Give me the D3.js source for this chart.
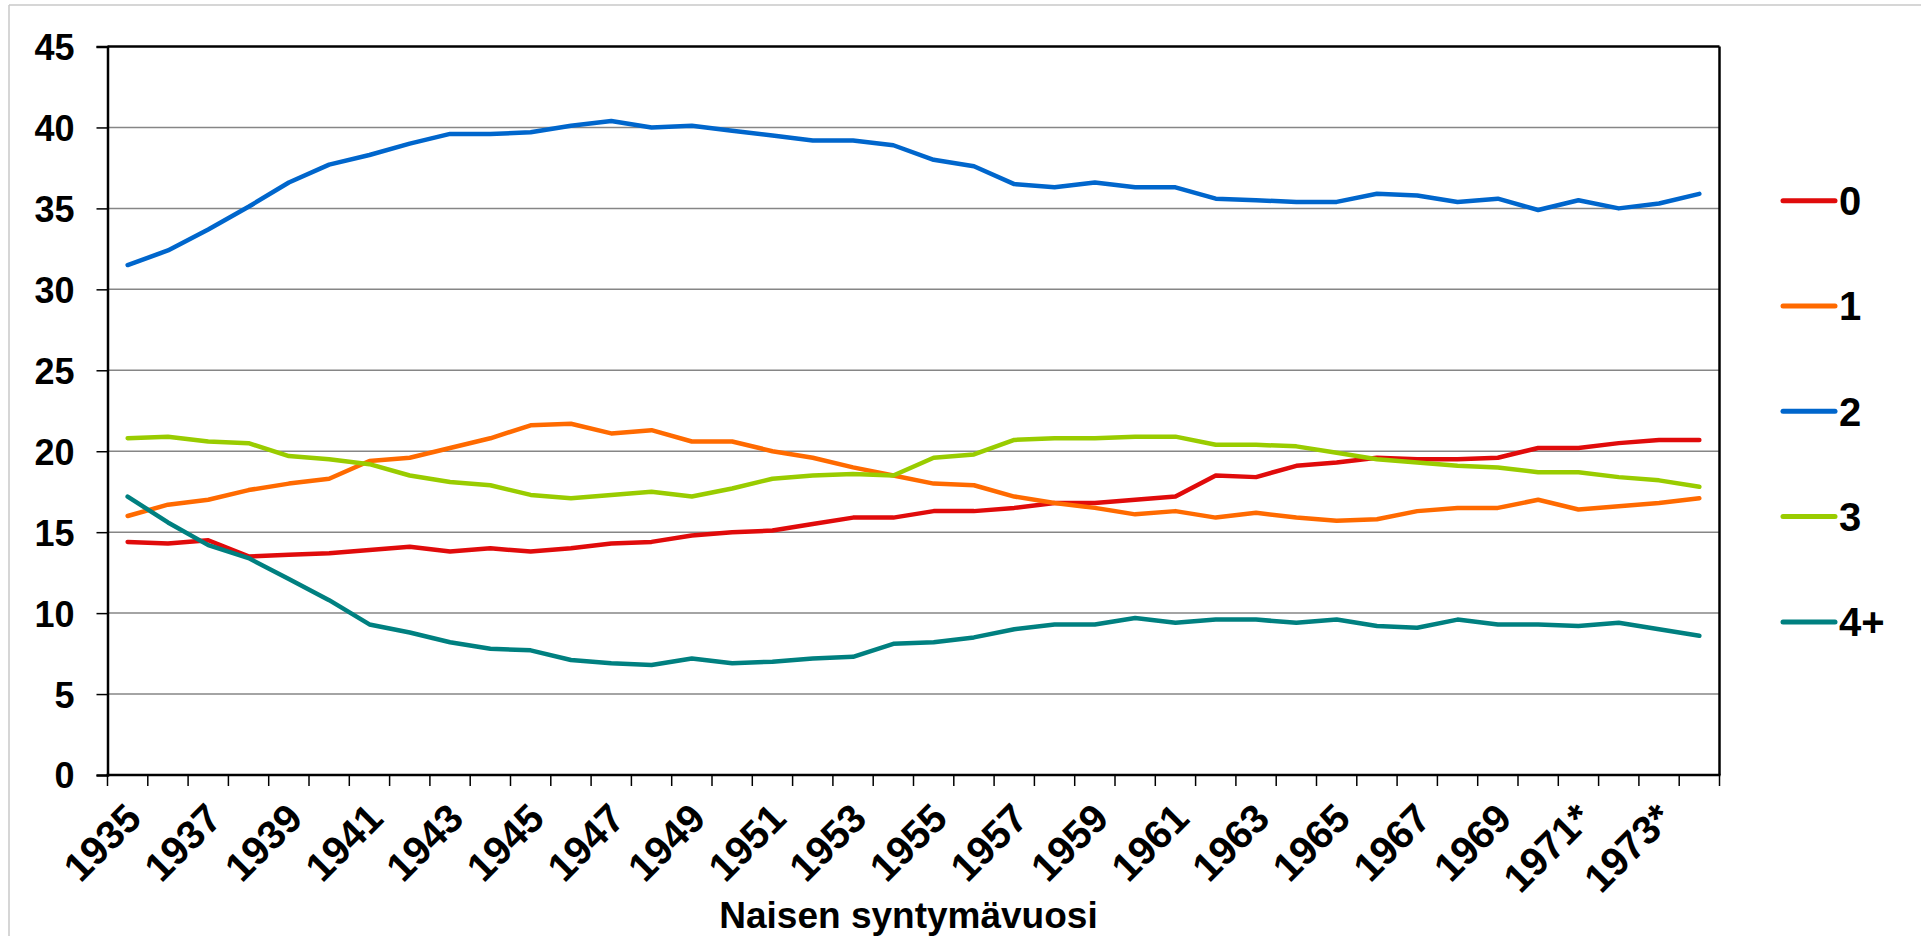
<!DOCTYPE html>
<html>
<head>
<meta charset="utf-8">
<script src="https://cdn.jsdelivr.net/npm/d3@7"></script>
<style>
  html, body { margin: 0; padding: 0; background: #fff; }
  svg { display: block; }
  text { font-family: "Liberation Sans", Arial, sans-serif; font-weight: bold; fill: #000; }
</style>
</head>
<body>
<svg id="chart" width="1921" height="936"></svg>
<script>
// ---- Data ----
const years = ["1935","1936","1937","1938","1939","1940","1941","1942","1943","1944",
  "1945","1946","1947","1948","1949","1950","1951","1952","1953","1954",
  "1955","1956","1957","1958","1959","1960","1961","1962","1963","1964",
  "1965","1966","1967","1968","1969","1970","1971*","1972*","1973*","1974*"];

const seriesNames = ["0", "1", "2", "3", "4+"];
const seriesColors = ["#E00B0B", "#FF6A00", "#0066CC", "#99CC00", "#008080"];

const s0 = [14.4,14.3,14.5,13.5,13.6,13.7,13.9,14.1,13.8,14.0,
  13.8,14.0,14.3,14.4,14.8,15.0,15.1,15.5,15.9,15.9,
  16.3,16.3,16.5,16.8,16.8,17.0,17.2,18.5,18.4,19.1,
  19.3,19.6,19.5,19.5,19.6,20.2,20.2,20.5,20.7,20.7];
const s1 = [16.0,16.7,17.0,17.6,18.0,18.3,19.4,19.6,20.2,20.8,
  21.6,21.7,21.1,21.3,20.6,20.6,20.0,19.6,19.0,18.5,
  18.0,17.9,17.2,16.8,16.5,16.1,16.3,15.9,16.2,15.9,
  15.7,15.8,16.3,16.5,16.5,17.0,16.4,16.6,16.8,17.1];
const s2 = [31.5,32.4,33.7,35.1,36.6,37.7,38.3,39.0,39.6,39.6,
  39.7,40.1,40.4,40.0,40.1,39.8,39.5,39.2,39.2,38.9,
  38.0,37.6,36.5,36.3,36.6,36.3,36.3,35.6,35.5,35.4,
  35.4,35.9,35.8,35.4,35.6,34.9,35.5,35.0,35.3,35.9];
const s3 = [20.8,20.9,20.6,20.5,19.7,19.5,19.2,18.5,18.1,17.9,
  17.3,17.1,17.3,17.5,17.2,17.7,18.3,18.5,18.6,18.5,
  19.6,19.8,20.7,20.8,20.8,20.9,20.9,20.4,20.4,20.3,
  19.9,19.5,19.3,19.1,19.0,18.7,18.7,18.4,18.2,17.8];
const s4 = [17.2,15.6,14.2,13.4,12.1,10.8,9.3,8.8,8.2,7.8,
  7.7,7.1,6.9,6.8,7.2,6.9,7.0,7.2,7.3,8.1,
  8.2,8.5,9.0,9.3,9.3,9.7,9.4,9.6,9.6,9.4,
  9.6,9.2,9.1,9.6,9.3,9.3,9.2,9.4,9.0,8.6];

const yTicks = [0,5,10,15,20,25,30,35,40,45];
const xAxisTitle = "Naisen syntymävuosi";

const seriesValues = [s0, s1, s2, s3, s4];

// ---- Layout ----
const svg = d3.select("#chart");
const plotLeft = 107.5, plotRight = 1719.5, plotTop = 46.5, plotBottom = 775;

// outer frame (top and left light gray edges)
svg.append("line").attr("x1", 9).attr("x2", 1921).attr("y1", 5).attr("y2", 5)
  .attr("stroke", "#c8c8c8").attr("stroke-width", 1.5);
svg.append("line").attr("x1", 9).attr("x2", 9).attr("y1", 5).attr("y2", 936)
  .attr("stroke", "#c8c8c8").attr("stroke-width", 1.5);

const x = d3.scaleBand().domain(years).range([plotLeft, plotRight]).padding(0);
const y = d3.scaleLinear().domain([0, 45]).range([plotBottom, plotTop]);

// gridlines
svg.append("g").selectAll("line").data(yTicks.filter(t => t > 0 && t < 45)).join("line")
  .attr("x1", plotLeft).attr("x2", plotRight)
  .attr("y1", d => y(d)).attr("y2", d => y(d))
  .attr("stroke", "#868686").attr("stroke-width", 1.5);

// plot border top and right
svg.append("line").attr("x1", plotLeft).attr("x2", plotRight).attr("y1", y(45)).attr("y2", y(45))
  .attr("stroke", "#000").attr("stroke-width", 2.5);
svg.append("line").attr("x1", plotRight).attr("x2", plotRight).attr("y1", plotTop).attr("y2", plotBottom)
  .attr("stroke", "#000").attr("stroke-width", 2.5);

// y axis
const yAxis = d3.axisLeft(y).tickValues(yTicks).tickSize(11).tickPadding(22);
const gy = svg.append("g").attr("transform", `translate(${plotLeft},0)`).call(yAxis);
gy.select(".domain").attr("stroke", "#000").attr("stroke-width", 2.5);
gy.selectAll(".tick line").attr("stroke", "#000").attr("stroke-width", 1.5);
gy.selectAll(".tick text").style("font-size", "36px").style("font-family", "'Liberation Sans', Arial, sans-serif")
  .style("font-weight", "bold").attr("fill", "#000").attr("dy", "0.36em");

// x axis: ticks at band boundaries
const boundaries = d3.range(years.length + 1).map(i => plotLeft + i * x.bandwidth());
const gx = svg.append("g");
gx.append("line").attr("x1", plotLeft - 1).attr("x2", plotRight + 1).attr("y1", plotBottom).attr("y2", plotBottom)
  .attr("stroke", "#000").attr("stroke-width", 2.5);
gx.selectAll("line.tk").data(boundaries).join("line").attr("class", "tk")
  .attr("x1", d => d).attr("x2", d => d).attr("y1", plotBottom).attr("y2", plotBottom + 11)
  .attr("stroke", "#000").attr("stroke-width", 1.5);

// x labels every other year, rotated -45
gx.selectAll("text.xl").data(years.filter((d, i) => i % 2 === 0)).join("text").attr("class", "xl")
  .attr("transform", d => `translate(${x(d) + x.bandwidth() / 2 - 4},${plotBottom + 26}) rotate(-45)`)
  .attr("text-anchor", "end")
  .attr("dy", "0.7em")
  .style("font-size", "40px")
  .text(d => d);

// x axis title
svg.append("text").attr("x", (plotLeft + plotRight) / 2 - 5).attr("y", 928)
  .attr("text-anchor", "middle").style("font-size", "37px").text(xAxisTitle);

// lines
const line = d3.line().x((d, i) => x(years[i]) + x.bandwidth() / 2).y(d => y(d));
svg.append("g").selectAll("path").data(seriesValues).join("path")
  .attr("d", d => line(d))
  .attr("fill", "none")
  .attr("stroke", (d, i) => seriesColors[i])
  .attr("stroke-width", 4.5)
  .attr("stroke-linejoin", "round")
  .attr("stroke-linecap", "round");

// legend
const legendY0 = 200.7, legendStep = 105.3;
const lg = svg.append("g").selectAll("g").data(seriesNames).join("g")
  .attr("transform", (d, i) => `translate(0,${legendY0 + i * legendStep})`);
lg.append("line").attr("x1", 1783).attr("x2", 1835).attr("y1", 0).attr("y2", 0)
  .attr("stroke", (d, i) => seriesColors[i]).attr("stroke-width", 5).attr("stroke-linecap", "round");
lg.append("text").attr("x", 1839).attr("y", 0).attr("dy", "0.36em")
  .style("font-size", "40px").text(d => d);
</script>
</body>
</html>
